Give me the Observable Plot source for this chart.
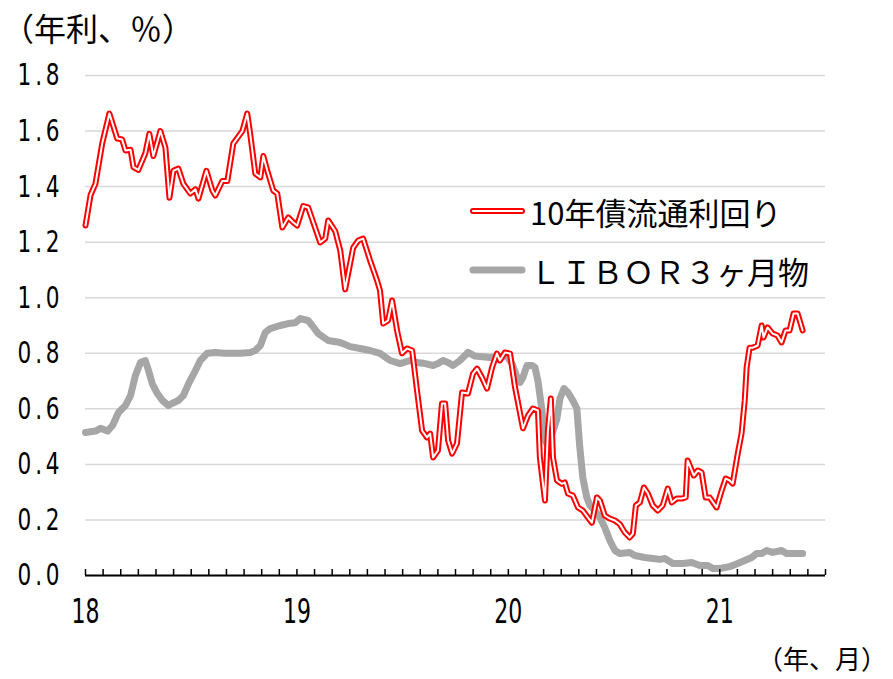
<!DOCTYPE html>
<html><head><meta charset="utf-8">
<script src="https://cdn.jsdelivr.net/npm/d3@7"></script>
<script src="https://cdn.jsdelivr.net/npm/@observablehq/plot@0.6"></script>
<style>
body{margin:0;background:#fff;}
#wrap{position:relative;width:893px;height:679px;overflow:hidden;background:#fff;}
#wrap svg.plot{position:absolute;left:0;top:0;}
.jp{font-family:"Noto Sans CJK JP","Noto Sans CJK SC",sans-serif;color:#000;position:absolute;white-space:nowrap;line-height:1;}
#ytitle{left:2px;top:11px;font-size:32px;}
#xtitle{right:6px;top:645px;font-size:26px;}
g[aria-label="y-axis tick label"] text{letter-spacing:5px;}
</style></head><body>
<div id="wrap">
  <div id="ytitle" class="jp">（年利、％）</div>
  <div id="xtitle" class="jp">（年、月）</div>
</div>
<script>
// x values: year (18 = Jan 2018) + fraction of year
const jgbT = [18.000,18.024,18.047,18.079,18.113,18.150,18.173,18.189,18.213,18.227,18.250,18.283,18.302,18.321,18.354,18.378,18.397,18.416,18.439,18.463,18.496,18.520,18.534,18.572,18.600,18.614,18.647,18.671,18.699,18.742,18.765,18.779,18.803,18.827,18.841,18.860,18.888,18.907,18.931,18.959,18.983,19.001,19.030,19.053,19.110,19.134,19.148,19.181,19.205,19.228,19.266,19.290,19.313,19.346,19.379,19.393,19.408,19.431,19.450,19.474,19.497,19.521,19.545,19.568,19.592,19.615,19.630,19.644,19.667,19.686,19.701,19.715,19.734,19.757,19.781,19.809,19.833,19.852,19.875,19.899,19.923,19.946,19.960,19.984,20.008,20.031,20.069,20.093,20.116,20.140,20.149,20.173,20.187,20.201,20.211,20.230,20.253,20.267,20.282,20.305,20.329,20.352,20.376,20.395,20.419,20.433,20.456,20.480,20.504,20.527,20.551,20.574,20.589,20.603,20.622,20.641,20.660,20.683,20.707,20.730,20.754,20.773,20.796,20.820,20.839,20.848,20.877,20.896,20.914,20.933,20.952,20.985,21.009,21.028,21.047,21.061,21.085,21.103,21.118,21.127,21.141,21.155,21.179,21.198,21.207,21.226,21.250,21.273,21.292,21.311,21.330,21.349,21.368,21.392];
const jgbV = [1.26,1.37,1.41,1.555,1.663,1.573,1.57,1.53,1.533,1.47,1.46,1.52,1.59,1.51,1.60,1.54,1.36,1.457,1.465,1.41,1.375,1.39,1.357,1.457,1.386,1.368,1.42,1.42,1.555,1.60,1.663,1.59,1.447,1.433,1.51,1.457,1.386,1.375,1.253,1.289,1.271,1.26,1.33,1.325,1.199,1.213,1.278,1.24,1.17,1.03,1.18,1.206,1.213,1.134,1.062,1.026,0.907,0.918,0.99,0.88,0.80,0.817,0.81,0.666,0.522,0.497,0.511,0.425,0.45,0.619,0.619,0.486,0.439,0.475,0.659,0.655,0.727,0.745,0.713,0.673,0.749,0.799,0.774,0.803,0.799,0.68,0.53,0.576,0.601,0.594,0.425,0.27,0.52,0.637,0.425,0.342,0.33,0.335,0.295,0.288,0.245,0.234,0.209,0.19,0.281,0.27,0.216,0.205,0.198,0.185,0.155,0.137,0.151,0.252,0.263,0.317,0.295,0.252,0.234,0.252,0.313,0.263,0.277,0.277,0.281,0.414,0.36,0.378,0.371,0.281,0.281,0.245,0.306,0.349,0.342,0.331,0.439,0.511,0.63,0.749,0.82,0.82,0.828,0.90,0.857,0.893,0.871,0.864,0.839,0.882,0.882,0.943,0.943,0.882];
const liborT = [18.000,18.047,18.071,18.104,18.128,18.156,18.189,18.213,18.236,18.260,18.283,18.298,18.316,18.340,18.364,18.392,18.411,18.439,18.463,18.487,18.520,18.543,18.576,18.614,18.661,18.732,18.779,18.803,18.827,18.850,18.874,18.921,18.959,18.992,19.016,19.053,19.072,19.101,19.148,19.205,19.252,19.299,19.346,19.393,19.441,19.488,19.535,19.568,19.606,19.644,19.667,19.691,19.715,19.738,19.771,19.809,19.842,19.866,19.913,19.960,19.993,20.017,20.041,20.055,20.069,20.088,20.112,20.126,20.140,20.159,20.173,20.187,20.211,20.230,20.244,20.263,20.282,20.305,20.324,20.338,20.352,20.371,20.386,20.409,20.433,20.456,20.480,20.504,20.527,20.574,20.598,20.645,20.683,20.716,20.740,20.778,20.825,20.867,20.905,20.943,20.967,21.000,21.047,21.085,21.118,21.151,21.174,21.198,21.222,21.250,21.292,21.316,21.392];
const liborV = [0.515,0.52,0.53,0.52,0.54,0.587,0.612,0.648,0.72,0.767,0.774,0.738,0.69,0.655,0.63,0.612,0.62,0.63,0.648,0.69,0.738,0.774,0.80,0.803,0.80,0.80,0.803,0.81,0.828,0.875,0.889,0.90,0.907,0.91,0.925,0.918,0.90,0.871,0.846,0.839,0.824,0.817,0.81,0.80,0.774,0.763,0.774,0.767,0.763,0.756,0.763,0.774,0.767,0.756,0.774,0.803,0.79,0.788,0.785,0.788,0.79,0.763,0.713,0.695,0.713,0.756,0.756,0.749,0.70,0.594,0.486,0.468,0.52,0.565,0.637,0.673,0.659,0.63,0.601,0.461,0.353,0.281,0.252,0.234,0.209,0.173,0.126,0.09,0.079,0.083,0.072,0.065,0.061,0.058,0.061,0.043,0.043,0.047,0.036,0.036,0.025,0.025,0.032,0.043,0.054,0.065,0.079,0.079,0.09,0.083,0.09,0.079,0.079];
const yTicks = [0, 0.2, 0.4, 0.6, 0.8, 1.0, 1.2, 1.4, 1.6, 1.8];
const yearTicks = [18, 19, 20, 21];
const monthTicks = d3.range(0, 43).map(m => 18 + m / 12);
const seriesNames = ["10年債流通利回り", "ＬＩＢＯＲ３ヶ月物"];

const jgb = jgbT.map((t, i) => ({t, v: jgbV[i]}));
const libor = liborT.map((t, i) => ({t, v: liborV[i]}));
const numFont = '"Liberation Sans Narrow","DejaVu Sans Condensed","Liberation Sans",sans-serif';

const chart = Plot.plot({
  width: 893, height: 679,
  marginLeft: 85, marginRight: 68, marginTop: 75, marginBottom: 104,
  x: {domain: [18, 21.5]},
  y: {domain: [0, 1.8]},
  style: {background: "transparent", overflow: "visible"},
  marks: [
    Plot.gridY(yTicks, {stroke: "#d9d9d9", strokeOpacity: 1, strokeWidth: 1.5}),
    Plot.axisY(yTicks, {tickSize: 0, tickPadding: 22, tickFormat: d => d.toFixed(1), fontSize: 31, fontFamily: numFont, label: null, fill: "#000"}),
    Plot.line(libor, {x: "t", y: "v", stroke: "#a6a6a6", strokeWidth: 7, strokeLinejoin: "round"}),
    Plot.line(jgb, {x: "t", y: "v", stroke: "#ff0000", strokeWidth: 6, strokeLinejoin: "round"}),
    Plot.line(jgb, {x: "t", y: "v", stroke: "#ffffff", strokeWidth: 2, strokeLinejoin: "round"}),
    Plot.ruleX(monthTicks, {x: d => d, y1: 0, y2: 0, insetTop: -6, stroke: "#000", strokeWidth: 1.5}),
    Plot.ruleY([0], {stroke: "#000", strokeWidth: 2.2}),
    Plot.axisX(yearTicks, {tickSize: 0, tickPadding: 23, tickFormat: d => String(d), fontSize: 34, fontFamily: numFont, label: null, fill: "#000"})
  ]
});
chart.classList.add("plot");
// condensed look for the tick labels
chart.querySelectorAll('g[aria-label="x-axis tick label"] text').forEach(t => {
  t.setAttribute("textLength", 28);
  t.setAttribute("lengthAdjust", "spacingAndGlyphs");
});
chart.querySelectorAll('g[aria-label="y-axis tick label"] text').forEach(t => {
  t.setAttribute("textLength", 46);
  t.setAttribute("lengthAdjust", "spacingAndGlyphs");
});
const wrap = document.getElementById("wrap");
wrap.insertBefore(chart, wrap.firstChild);

// legend
const legItems = [
  {name: seriesNames[0], top: 196, y: 211, kind: "red"},
  {name: seriesNames[1], top: 255, y: 270, kind: "gray"}
];
legItems.forEach(it => {
  const s = document.createElementNS("http://www.w3.org/2000/svg", "svg");
  s.setAttribute("width", 70); s.setAttribute("height", 20);
  s.style.position = "absolute"; s.style.left = "462px"; s.style.top = (it.y - 10) + "px";
  const mk = (stroke, w) => {
    const l = document.createElementNS("http://www.w3.org/2000/svg", "line");
    l.setAttribute("x1", 11); l.setAttribute("x2", 60); l.setAttribute("y1", 10); l.setAttribute("y2", 10);
    l.setAttribute("stroke", stroke); l.setAttribute("stroke-width", w); l.setAttribute("stroke-linecap", "round");
    s.appendChild(l);
  };
  if (it.kind === "red") { mk("#ff0000", 6); mk("#ffffff", 2); } else { mk("#a6a6a6", 7); }
  wrap.appendChild(s);
  const d = document.createElement("div");
  d.className = "jp";
  d.style.left = "530px"; d.style.top = it.top + "px"; d.style.fontSize = "31px";
  d.textContent = it.name;
  wrap.appendChild(d);
});
</script>
</body></html>
